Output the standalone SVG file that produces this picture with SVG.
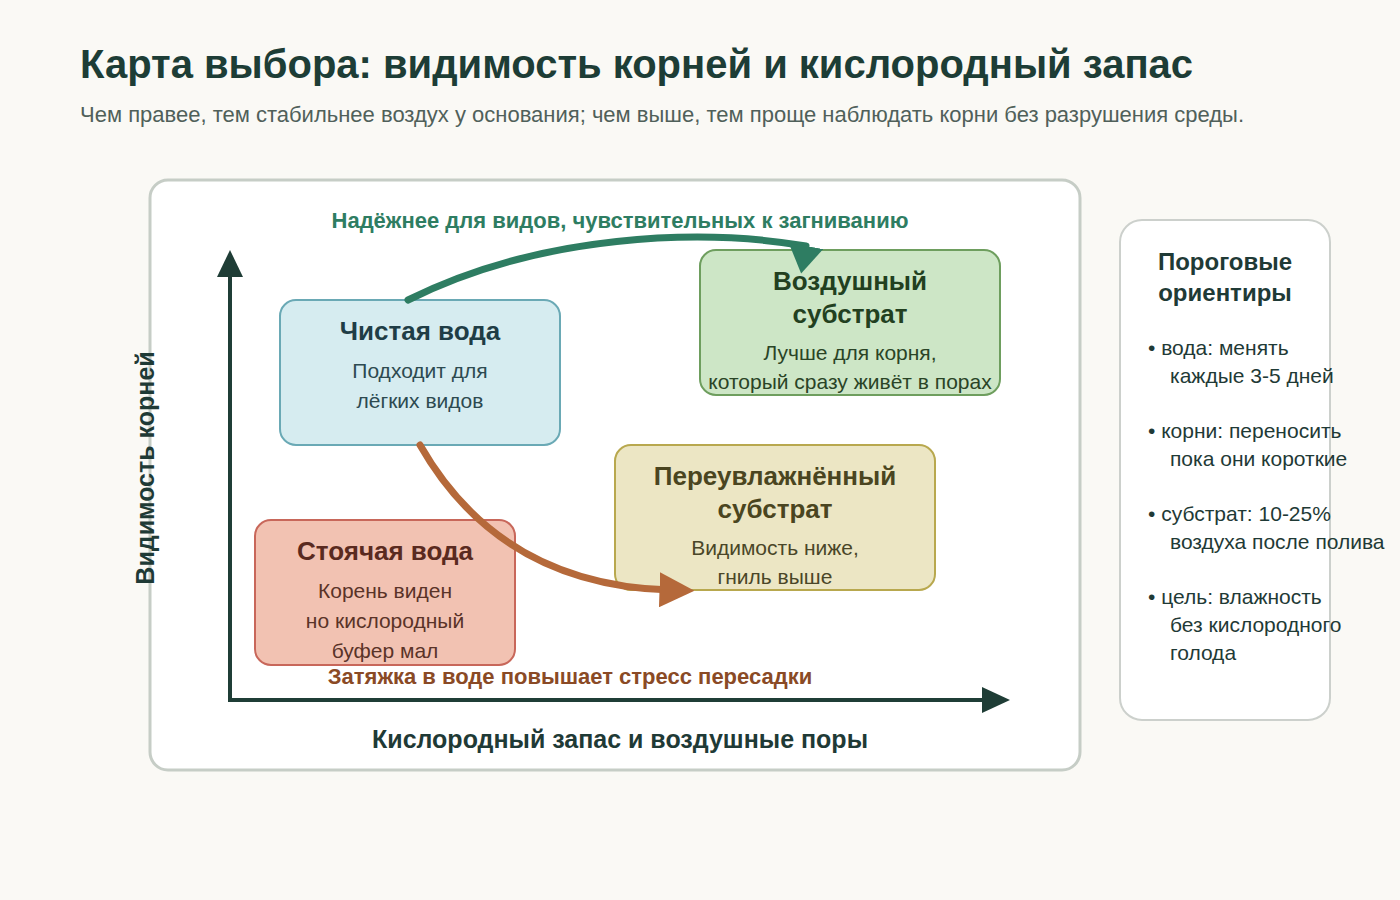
<svg xmlns="http://www.w3.org/2000/svg" width="1400" height="900" viewBox="0 0 1400 900">
<defs>
<style>
text{font-family:"Liberation Sans",Arial,sans-serif}
.ttl{font-size:40px;font-weight:bold;fill:#1d3d36}
.sub{font-size:22px;fill:#50605a}
.nt{font-size:26px;font-weight:bold;text-anchor:middle}
.nb{font-size:21px;text-anchor:middle}
.ax{font-size:25px;font-weight:bold;fill:#1f3a36;text-anchor:middle}
.side{font-size:21px;fill:#1f3a36}
</style>
<marker id="mg" viewBox="0 0 10 10" refX="0" refY="5" markerWidth="4" markerHeight="5" preserveAspectRatio="none" orient="100" markerUnits="strokeWidth"><path d="M0,0 L10,5 L0,10 Z" fill="#2e7d62"/></marker>
<marker id="mb" viewBox="0 0 10 10" refX="3" refY="5" markerWidth="5" markerHeight="5" orient="auto" markerUnits="strokeWidth"><path d="M0,0 L10,5 L0,10 Z" fill="#b5693a"/></marker>
</defs>
<rect width="1400" height="900" fill="#faf9f5"/>
<text class="ttl" x="80" y="78">Карта выбора: видимость корней и кислородный запас</text>
<text class="sub" x="80" y="122">Чем правее, тем стабильнее воздух у основания; чем выше, тем проще наблюдать корни без разрушения среды.</text>
<rect x="150" y="180" width="930" height="590" rx="18" fill="#ffffff" stroke="#c6cdc6" stroke-width="3"/>
<g id="axes">
<line x1="230" y1="700" x2="230" y2="270" stroke="#1f3d36" stroke-width="4"/>
<polygon points="230,250 217,277 243,277" fill="#1f3d36"/>
<line x1="228" y1="700" x2="990" y2="700" stroke="#1f3d36" stroke-width="4"/>
<polygon points="1010,700 982,687 982,713" fill="#1f3d36"/>
<text class="ax" x="620" y="748">Кислородный запас и воздушные поры</text>
<text class="ax" transform="translate(154,468) rotate(-90)">Видимость корней</text>
</g>
<g id="n-clean">
<rect x="280" y="300" width="280" height="145" rx="16" fill="#d6ecf0" stroke="#6aa9b5" stroke-width="2"/>
<text class="nt" x="420" y="340" fill="#1f3d46">Чистая вода</text>
<text class="nb" x="420" y="378" fill="#2d4a50">Подходит для</text>
<text class="nb" x="420" y="408" fill="#2d4a50">лёгких видов</text>
</g>
<g id="n-air">
<rect x="700" y="250" width="300" height="145" rx="16" fill="#cde6c6" stroke="#6e9e5e" stroke-width="2"/>
<text class="nt" x="850" y="290" fill="#22401f">Воздушный</text>
<text class="nt" x="850" y="323" fill="#22401f">субстрат</text>
<text class="nb" x="850" y="360" fill="#2a4426">Лучше для корня,</text>
<text class="nb" x="850" y="389" fill="#2a4426">который сразу живёт в порах</text>
</g>
<g id="n-wet">
<rect x="615" y="445" width="320" height="145" rx="16" fill="#ece6c4" stroke="#b8a84e" stroke-width="2"/>
<text class="nt" x="775" y="485" fill="#4a4520">Переувлажнённый</text>
<text class="nt" x="775" y="518" fill="#4a4520">субстрат</text>
<text class="nb" x="775" y="555" fill="#4a4628">Видимость ниже,</text>
<text class="nb" x="775" y="584" fill="#4a4628">гниль выше</text>
</g>
<g id="n-still">
<rect x="255" y="520" width="260" height="145" rx="16" fill="#f2c2b2" stroke="#c8675a" stroke-width="2"/>
<text class="nt" x="385" y="560" fill="#5a2a20">Стоячая вода</text>
<text class="nb" x="385" y="598" fill="#5a3328">Корень виден</text>
<text class="nb" x="385" y="628" fill="#5a3328">но кислородный</text>
<text class="nb" x="385" y="658" fill="#5a3328">буфер мал</text>
</g>
<g id="connectors" fill="none" stroke-linecap="round">
<path d="M408,300 C540,234 700,228 806,246" stroke="#2e7d62" stroke-width="7" marker-end="url(#mg)"/>
<path d="M420,445 Q500,585 670,590" stroke="#b5693a" stroke-width="7" marker-end="url(#mb)"/>
</g>
<text x="620" y="228" font-size="22" font-weight="bold" fill="#2e7d62" text-anchor="middle">Надёжнее для видов, чувствительных к загниванию</text>
<text x="570" y="684" font-size="22" font-weight="bold" fill="#8a4a25" text-anchor="middle">Затяжка в воде повышает стресс пересадки</text>
<g id="side">
<rect x="1120" y="220" width="210" height="500" rx="22" fill="#ffffff" stroke="#ccd0cc" stroke-width="2"/>
<text x="1225" y="270" font-size="24" font-weight="bold" fill="#1f3a36" text-anchor="middle">Пороговые</text>
<text x="1225" y="301" font-size="24" font-weight="bold" fill="#1f3a36" text-anchor="middle">ориентиры</text>
<text class="side" x="1148" y="355">• вода: менять</text>
<text class="side" x="1170" y="383">каждые 3-5 дней</text>
<text class="side" x="1148" y="438">• корни: переносить</text>
<text class="side" x="1170" y="466">пока они короткие</text>
<text class="side" x="1148" y="521">• субстрат: 10-25%</text>
<text class="side" x="1170" y="549">воздуха после полива</text>
<text class="side" x="1148" y="604">• цель: влажность</text>
<text class="side" x="1170" y="632">без кислородного</text>
<text class="side" x="1170" y="660">голода</text>
</g>
</svg>
